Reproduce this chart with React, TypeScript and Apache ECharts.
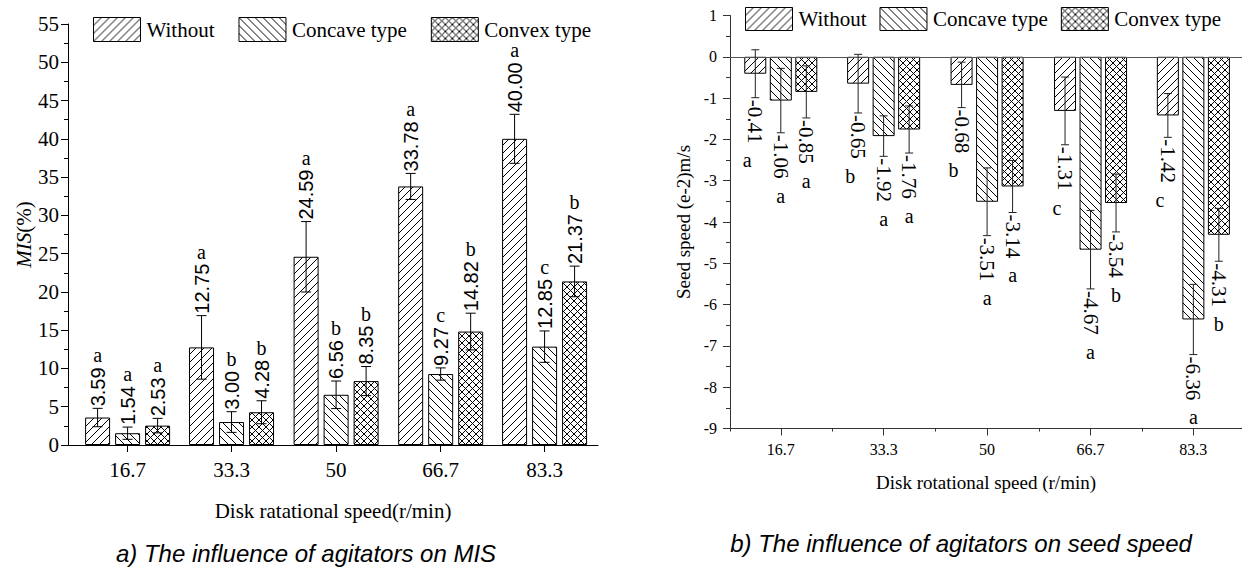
import React, { useEffect, useRef } from "react";
import * as echarts from "echarts";

// ---------- data ----------
const speeds = [16.7, 33.3, 50, 66.7, 83.3];
const speedLabels = ["16.7", "33.3", "50", "66.7", "83.3"];
const seriesNames = ["Without", "Concave type", "Convex type"];

// a) MIS (%)
const misWithout = [3.59, 12.75, 24.59, 33.78, 40.0];
const misConcave = [1.54, 3.0, 6.56, 9.27, 12.85];
const misConvex = [2.53, 4.28, 8.35, 14.82, 21.37];
const misErrWithout = [1.2, 4.15, 4.6, 1.7, 3.2];
const misErrConcave = [0.8, 1.35, 1.8, 0.8, 2.05];
const misErrConvex = [0.95, 1.5, 1.9, 2.4, 2.0];
const misLetWithout = ["a", "a", "a", "a", "a"];
const misLetConcave = ["a", "b", "b", "c", "c"];
const misLetConvex = ["a", "b", "b", "b", "b"];

// b) seed speed (e-2 m/s)
const spdWithout = [-0.41, -0.65, -0.68, -1.31, -1.42];
const spdConcave = [-1.06, -1.92, -3.51, -4.67, -6.36];
const spdConvex = [-0.85, -1.76, -3.14, -3.54, -4.31];
const spdErrWithout = [0.58, 0.71, 0.55, 0.82, 0.53];
const spdErrConcave = [0.78, 0.49, 0.82, 0.95, 0.85];
const spdErrConvex = [0.63, 0.57, 0.63, 0.7, 0.64];
const spdLetWithout = ["a", "b", "b", "c", "c"];
const spdLetConcave = ["a", "a", "a", "a", "a"];
const spdLetConvex = ["a", "a", "a", "b", "b"];

const minorSpeedTicks = [8.5, 25, 41.65, 58.35, 75];

// ---------- helpers ----------
const SERIF = "Liberation Serif";
const SANS = "Liberation Sans";

function makePattern(kind: "fwd" | "back" | "cross", size: number) {
  const c = document.createElement("canvas");
  c.width = size;
  c.height = size;
  const g = c.getContext("2d")!;
  g.fillStyle = "#fff";
  g.fillRect(0, 0, size, size);
  g.strokeStyle = "#000";
  g.lineWidth = 1;
  const fwd = () => {
    g.beginPath();
    g.moveTo(-1, size + 1);
    g.lineTo(size + 1, -1);
    g.moveTo(-2, 2);
    g.lineTo(2, -2);
    g.moveTo(size - 2, size + 2);
    g.lineTo(size + 2, size - 2);
    g.stroke();
  };
  const back = () => {
    g.beginPath();
    g.moveTo(-1, -1);
    g.lineTo(size + 1, size + 1);
    g.moveTo(size - 2, -2);
    g.lineTo(size + 2, 2);
    g.moveTo(-2, size - 2);
    g.lineTo(2, size + 2);
    g.stroke();
  };
  if (kind === "fwd") fwd();
  else if (kind === "back") back();
  else {
    fwd();
    back();
  }
  return { image: c, repeat: "repeat" } as any;
}

const measureCtx = document.createElement("canvas").getContext("2d")!;
function textWidth(t: string, font: string) {
  measureCtx.font = font;
  return measureCtx.measureText(t).width;
}

function fmtSpeed(v: number) {
  const i = speeds.findIndex((s) => Math.abs(s - v) < 1e-6);
  return i >= 0 ? speedLabels[i] : "";
}

export default function App() {
  const ref = useRef<HTMLDivElement>(null);

  useEffect(() => {
    document.body.style.margin = "0";
    const chart = echarts.init(ref.current!, undefined, { renderer: "svg" });

    const patFwd = makePattern("fwd", 8);
    const patBack = makePattern("back", 8);
    const patCross = makePattern("cross", 7);
    const patterns = [patFwd, patBack, patCross];

    const bar = (
      name: string,
      vals: number[],
      axis: number,
      pat: any,
      width: number,
      gap: string,
      extra: any = {}
    ) => ({
      type: "bar",
      name,
      xAxisIndex: axis === 0 ? 0 : 1,
      yAxisIndex: axis,
      data: speeds.map((s, i) => [s, vals[i]]),
      barWidth: width,
      barGap: gap,
      itemStyle: { color: pat, borderColor: "#000", borderWidth: 1 },
      emphasis: { disabled: true },
      ...extra,
    });

    const errLeft = (
      vals: number[],
      errs: number[],
      letters: string[],
      offset: number
    ) => ({
      type: "custom",
      xAxisIndex: 0,
      yAxisIndex: 0,
      silent: true,
      z: 10,
      data: speeds.map((s, i) => [s, vals[i], errs[i]]),
      encode: { x: 0, y: 1 },
      renderItem: (params: any, api: any) => {
        const i = params.dataIndex;
        const x = api.value(0);
        const v = api.value(1);
        const e = api.value(2);
        const p = api.coord([x, v]);
        const hi = api.coord([x, v + e]);
        const lo = api.coord([x, v - e]);
        const cx = p[0] + offset;
        const label = vals[i].toFixed(2);
        const font = `20px "${SANS}"`;
        const w = textWidth(label, font);
        const ls = { stroke: "#000", lineWidth: 1 };
        const ty = hi[1] - 2;
        return {
          type: "group",
          children: [
            { type: "line", shape: { x1: cx, y1: hi[1], x2: cx, y2: lo[1] }, style: ls },
            { type: "line", shape: { x1: cx - 5, y1: hi[1], x2: cx + 5, y2: hi[1] }, style: ls },
            { type: "line", shape: { x1: cx - 5, y1: lo[1], x2: cx + 5, y2: lo[1] }, style: ls },
            {
              type: "text",
              x: cx,
              y: ty,
              rotation: Math.PI / 2,
              style: {
                text: label,
                fontFamily: SANS,
                fontSize: 20,
                fill: "#000",
                align: "left",
                verticalAlign: "middle",
              },
            },
            {
              type: "text",
              x: cx,
              y: ty - w - 2,
              style: {
                text: letters[i],
                fontFamily: SERIF,
                fontSize: 20,
                fill: "#000",
                align: "center",
                verticalAlign: "bottom",
              },
            },
          ],
        };
      },
    });

    const errRight = (
      vals: number[],
      errs: number[],
      letters: string[],
      offset: number,
      letterShift: number
    ) => ({
      type: "custom",
      xAxisIndex: 1,
      yAxisIndex: 1,
      silent: true,
      z: 10,
      data: speeds.map((s, i) => [s, vals[i], errs[i]]),
      encode: { x: 0, y: 1 },
      renderItem: (params: any, api: any) => {
        const i = params.dataIndex;
        const x = api.value(0);
        const v = api.value(1);
        const e = api.value(2);
        const p = api.coord([x, v]);
        const hi = api.coord([x, v + e]);
        const lo = api.coord([x, v - e]);
        const cx = p[0] + offset;
        const label = vals[i].toFixed(2);
        const font = `21px "${SERIF}"`;
        const w = textWidth(label, font);
        const ls = { stroke: "#222", lineWidth: 1 };
        const ty = lo[1] + 2;
        return {
          type: "group",
          children: [
            { type: "line", shape: { x1: cx, y1: hi[1], x2: cx, y2: lo[1] }, style: ls },
            { type: "line", shape: { x1: cx - 4, y1: hi[1], x2: cx + 4, y2: hi[1] }, style: ls },
            { type: "line", shape: { x1: cx - 4, y1: lo[1], x2: cx + 4, y2: lo[1] }, style: ls },
            {
              type: "text",
              x: cx,
              y: ty,
              rotation: -Math.PI / 2,
              style: {
                text: label,
                fontFamily: SERIF,
                fontSize: 21,
                fill: "#000",
                align: "left",
                verticalAlign: "middle",
              },
            },
            {
              type: "text",
              x: cx + letterShift,
              y: ty + w + 7,
              style: {
                text: letters[i],
                fontFamily: SERIF,
                fontSize: 20,
                fill: "#000",
                align: "center",
                verticalAlign: "top",
              },
            },
          ],
        };
      },
    });

    const axisLineBlack = { show: true, onZero: false, lineStyle: { color: "#000", width: 1 } };
    const axisLineGrey = { show: true, onZero: false, lineStyle: { color: "#333", width: 1 } };

    const option: any = {
      animation: false,
      backgroundColor: "#fff",
      grid: [
        { left: 68, top: 24, width: 530, height: 421 },
        { left: 730, top: 15.5, width: 512, height: 413 },
      ],
      legend: [
        {
          data: seriesNames,
          left: 93,
          top: 17,
          padding: 0,
          itemWidth: 47,
          itemHeight: 24,
          itemGap: 24,
          icon: "rect",
          selectedMode: false,
          itemStyle: { borderColor: "#000", borderWidth: 1 },
          textStyle: { fontFamily: SERIF, fontSize: 21, color: "#000", padding: [0, 0, 0, 1] },
        },
        {
          data: seriesNames,
          left: 745,
          top: 7,
          padding: 0,
          itemWidth: 47,
          itemHeight: 23,
          itemGap: 13,
          icon: "rect",
          selectedMode: false,
          itemStyle: { borderColor: "#000", borderWidth: 1 },
          textStyle: { fontFamily: SERIF, fontSize: 21, color: "#000", padding: [0, 0, 0, 1] },
        },
      ],
      xAxis: [
        {
          gridIndex: 0,
          type: "value",
          min: 7.18,
          max: 91.83,
          axisLine: axisLineBlack,
          axisTick: { show: true, length: 7, customValues: speeds, lineStyle: { color: "#000" } },
          axisLabel: {
            customValues: speeds,
            formatter: (v: number) => fmtSpeed(v),
            fontFamily: SERIF,
            fontSize: 21,
            color: "#000",
            margin: 14,
          },
          splitLine: { show: false },
          name: "Disk ratational speed(r/min)",
          nameLocation: "middle",
          nameGap: 55,
          nameTextStyle: { fontFamily: SERIF, fontSize: 21, color: "#000" },
        },
        {
          gridIndex: 1,
          type: "value",
          position: "bottom",
          min: 8.5,
          max: 91.15,
          axisLine: axisLineGrey,
          axisTick: { show: true, length: 7, customValues: speeds, lineStyle: { color: "#333" } },
          axisLabel: {
            customValues: speeds,
            formatter: (v: number) => fmtSpeed(v),
            fontFamily: SERIF,
            fontSize: 16,
            color: "#000",
            margin: 13,
          },
          splitLine: { show: false },
          name: "Disk rotational speed (r/min)",
          nameLocation: "middle",
          nameGap: 44,
          nameTextStyle: { fontFamily: SERIF, fontSize: 19, color: "#000" },
        },
        {
          gridIndex: 1,
          type: "value",
          position: "bottom",
          min: 8.5,
          max: 91.15,
          axisLine: { show: false, onZero: false },
          axisTick: { show: true, length: 3, customValues: minorSpeedTicks, lineStyle: { color: "#333" } },
          axisLabel: { show: false },
          splitLine: { show: false },
        },
      ],
      yAxis: [
        {
          gridIndex: 0,
          type: "value",
          min: 0,
          max: 55,
          interval: 5,
          axisLine: axisLineBlack,
          axisTick: { show: true, length: 7, lineStyle: { color: "#000" } },
          minorTick: { show: true, splitNumber: 2, length: 4, lineStyle: { color: "#000" } },
          axisLabel: { fontFamily: SERIF, fontSize: 21, color: "#000", margin: 9 },
          splitLine: { show: false },
          name: "{i|MIS}(%)",
          nameLocation: "middle",
          nameGap: 30,
          nameTextStyle: {
            fontFamily: SERIF,
            fontSize: 21,
            color: "#000",
            rich: { i: { fontFamily: SERIF, fontSize: 21, fontStyle: "italic", color: "#000" } },
          },
        },
        {
          gridIndex: 1,
          type: "value",
          min: -9,
          max: 1,
          interval: 1,
          axisLine: axisLineGrey,
          axisTick: { show: true, length: 7, lineStyle: { color: "#333" } },
          minorTick: { show: true, splitNumber: 2, length: 4, lineStyle: { color: "#333" } },
          axisLabel: { fontFamily: SERIF, fontSize: 16, color: "#000", margin: 13 },
          splitLine: { show: false },
          name: "Seed speed (e-2)m/s",
          nameLocation: "middle",
          nameGap: 37,
          nameTextStyle: { fontFamily: SERIF, fontSize: 19, color: "#000" },
        },
      ],
      series: [
        bar(seriesNames[0], misWithout, 0, patterns[0], 25, "20%"),
        bar(seriesNames[1], misConcave, 0, patterns[1], 25, "20%"),
        bar(seriesNames[2], misConvex, 0, patterns[2], 25, "20%"),
        bar(seriesNames[0], spdWithout, 1, patterns[0], 22, "16%", {
          markLine: {
            silent: true,
            symbol: ["none", "none"],
            label: { show: false },
            lineStyle: { color: "#555", type: "solid", width: 1 },
            data: [{ yAxis: 0 }],
          },
        }),
        bar(seriesNames[1], spdConcave, 1, patterns[1], 22, "16%"),
        bar(seriesNames[2], spdConvex, 1, patterns[2], 22, "16%"),
        errLeft(misWithout, misErrWithout, misLetWithout, -30),
        errLeft(misConcave, misErrConcave, misLetConcave, 0),
        errLeft(misConvex, misErrConvex, misLetConvex, 30),
        errRight(spdWithout, spdErrWithout, spdLetWithout, -25.5, -8),
        errRight(spdConcave, spdErrConcave, spdLetConcave, 0, 0),
        errRight(spdConvex, spdErrConvex, spdLetConvex, 25.5, 0),
      ],
      graphic: [
        {
          type: "text",
          x: 306,
          y: 553,
          style: {
            text: "a) The influence of agitators on MIS",
            fontFamily: SANS,
            fontSize: 24,
            fontStyle: "italic",
            fill: "#000",
            align: "center",
            verticalAlign: "middle",
          },
        },
        {
          type: "text",
          x: 961,
          y: 543,
          style: {
            text: "b) The influence of agitators on seed speed",
            fontFamily: SANS,
            fontSize: 24,
            fontStyle: "italic",
            fill: "#000",
            align: "center",
            verticalAlign: "middle",
          },
        },
      ],
    };

    chart.setOption(option);
    return () => chart.dispose();
  }, []);

  return (
    <div
      ref={ref}
      style={{ position: "fixed", left: 0, top: 0, width: 1242, height: 570, background: "#fff" }}
    />
  );
}
